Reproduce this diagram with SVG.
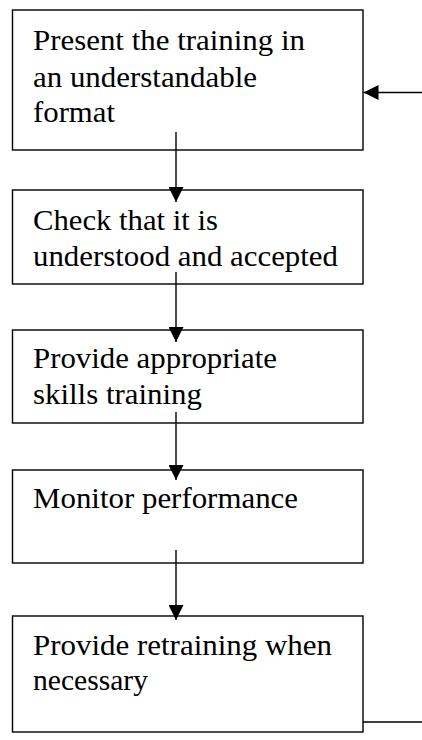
<svg xmlns="http://www.w3.org/2000/svg" width="422" height="740" viewBox="0 0 422 740">
  <style>
    .box { fill: #ffffff; stroke: #000000; stroke-width: 1.4; }
    .conn { stroke: #000000; stroke-width: 1.4; fill: none; }
  </style>
  <defs>
    <marker id="arrow" viewBox="0 0 15 15" refX="15" refY="7.5" markerWidth="15" markerHeight="15" markerUnits="userSpaceOnUse" orient="auto">
      <path d="M0,0 L15,7.5 L0,15 z" fill="#000000"/>
    </marker>
  </defs>

  <g font-family="'Liberation Serif', 'Times New Roman', serif" font-size="30" fill="#000000">
    <g id="step-present">
      <rect class="box" x="12.5" y="10" width="350.5" height="140"/>
      <text x="33" y="50" textLength="272" lengthAdjust="spacingAndGlyphs">Present the training in</text>
      <text x="33" y="86.5" textLength="224" lengthAdjust="spacingAndGlyphs">an understandable</text>
      <text x="33" y="122" textLength="82" lengthAdjust="spacingAndGlyphs">format</text>
    </g>

    <g id="step-check">
      <rect class="box" x="12.5" y="190" width="350.5" height="94"/>
      <text x="33" y="230" textLength="185" lengthAdjust="spacingAndGlyphs">Check that it is</text>
      <text x="33" y="266" textLength="305" lengthAdjust="spacingAndGlyphs">understood and accepted</text>
    </g>

    <g id="step-skills">
      <rect class="box" x="12.5" y="330" width="350.5" height="93"/>
      <text x="33" y="368" textLength="244" lengthAdjust="spacingAndGlyphs">Provide appropriate</text>
      <text x="33" y="404" textLength="169" lengthAdjust="spacingAndGlyphs">skills training</text>
    </g>

    <g id="step-monitor">
      <rect class="box" x="12.5" y="470" width="350.5" height="93"/>
      <text x="33" y="508" textLength="265" lengthAdjust="spacingAndGlyphs">Monitor performance</text>
    </g>

    <g id="step-retrain">
      <rect class="box" x="12.5" y="616" width="350.5" height="116"/>
      <text x="33" y="655" textLength="299" lengthAdjust="spacingAndGlyphs">Provide retraining when</text>
      <text x="33" y="690" textLength="115" lengthAdjust="spacingAndGlyphs">necessary</text>
    </g>
  </g>

  <g id="connectors">
    <line class="conn" x1="176" y1="132" x2="176" y2="202" marker-end="url(#arrow)"/>
    <line class="conn" x1="176" y1="272" x2="176" y2="342" marker-end="url(#arrow)"/>
    <line class="conn" x1="176" y1="412" x2="176" y2="480" marker-end="url(#arrow)"/>
    <line class="conn" x1="176" y1="550" x2="176" y2="620" marker-end="url(#arrow)"/>
    <!-- loop back from the last step to the first -->
    <line class="conn" x1="363" y1="722" x2="422" y2="722"/>
    <line class="conn" x1="422" y1="92.5" x2="363.5" y2="92.5" marker-end="url(#arrow)"/>
  </g>
</svg>
